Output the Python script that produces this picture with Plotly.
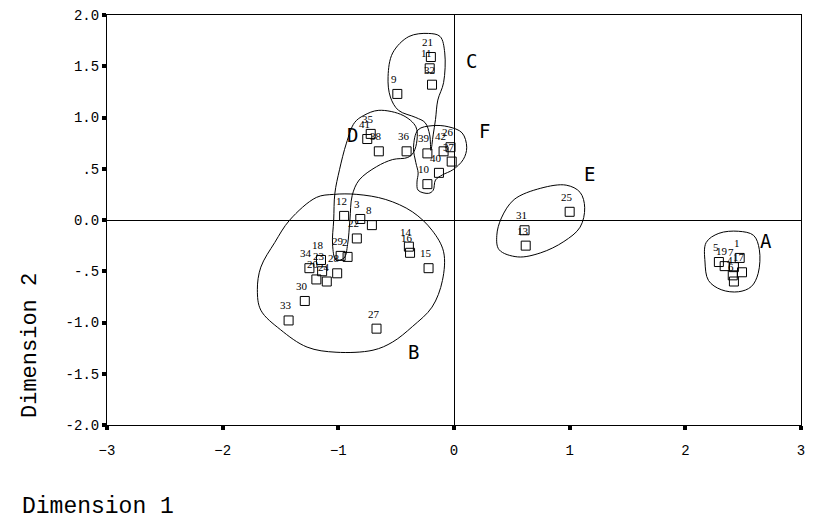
import plotly.graph_objects as go

# point coordinates (dimension 1, dimension 2) and their labels
labels = ["12", "3", "8", "22", "29", "2", "28", "18", "34", "23", "20", "24",
          "30", "33", "27", "14", "16", "15",
          "35", "41", "38", "36",
          "21", "11", "32", "9",
          "39", "42", "26", "37", "40", "10",
          "25", "31", "13",
          "1", "5", "19", "7", "17", "4", "6"]
dim1 = [-0.95, -0.81, -0.71, -0.84, -0.98, -0.92, -1.01, -1.15, -1.25, -1.14, -1.19, -1.10,
        -1.29, -1.43, -0.67, -0.39, -0.38, -0.22,
        -0.72, -0.75, -0.65, -0.41,
        -0.20, -0.21, -0.19, -0.49,
        -0.23, -0.09, -0.03, -0.02, -0.13, -0.23,
        1.00, 0.61, 0.62,
        2.47, 2.29, 2.34, 2.42, 2.49, 2.41, 2.42]
dim2 = [0.04, 0.01, -0.05, -0.18, -0.35, -0.36, -0.52, -0.39, -0.47, -0.50, -0.58, -0.60,
        -0.79, -0.98, -1.06, -0.26, -0.32, -0.47,
        0.84, 0.79, 0.67, 0.67,
        1.59, 1.48, 1.32, 1.23,
        0.65, 0.67, 0.71, 0.57, 0.46, 0.35,
        0.08, -0.10, -0.25,
        -0.37, -0.41, -0.45, -0.46, -0.51, -0.54, -0.60]

# hand-drawn group outlines
group_names = ["A", "B", "C", "D", "E", "F"]
outline_x = {
    "A": [2.18, 2.29, 2.46, 2.59, 2.64, 2.63, 2.57, 2.46, 2.31, 2.20, 2.17],
    "B": [-1.42, -1.19, -1.04, -0.84, -0.59, -0.36, -0.19, -0.09, -0.10, -0.19, -0.36,
          -0.53, -0.70, -1.02, -1.27, -1.50, -1.67, -1.70, -1.67, -1.55],
    "C": [-0.22, -0.12, -0.08, -0.09, -0.14, -0.16, -0.18, -0.20, -0.21, -0.25, -0.33,
          -0.48, -0.55, -0.57, -0.53, -0.39],
    "D": [-0.78, -0.65, -0.44, -0.33, -0.32, -0.35, -0.40, -0.53, -0.67, -0.82, -0.88,
          -0.90, -0.92, -0.95, -1.02, -1.05, -1.04, -1.03, -0.99, -0.93, -0.86],
    "E": [0.41, 0.52, 0.75, 0.97, 1.09, 1.13, 1.09, 0.95, 0.75, 0.55, 0.39, 0.37],
    "F": [-0.31, -0.19, -0.05, 0.07, 0.11, 0.08, -0.01, -0.10, -0.16, -0.18, -0.22,
          -0.31, -0.32, -0.31, -0.33, -0.35],
}
outline_y = {
    "A": [-0.22, -0.13, -0.11, -0.15, -0.29, -0.52, -0.65, -0.70, -0.68, -0.59, -0.41],
    "B": [0.00, 0.22, 0.25, 0.25, 0.20, 0.08, -0.10, -0.31, -0.59, -0.85, -1.04,
          -1.19, -1.27, -1.29, -1.24, -1.07, -0.88, -0.68, -0.46, -0.22],
    "C": [1.82, 1.79, 1.63, 1.34, 1.17, 0.98, 0.83, 0.68, 0.83, 0.95, 1.00,
          1.07, 1.20, 1.40, 1.63, 1.79],
    "D": [1.02, 1.07, 1.02, 0.91, 0.78, 0.66, 0.61, 0.59, 0.52, 0.39, 0.24,
          0.00, -0.24, -0.37, -0.39, -0.24, 0.00, 0.26, 0.49, 0.75, 0.95],
    "E": [0.02, 0.20, 0.31, 0.34, 0.27, 0.12, -0.07, -0.21, -0.32, -0.36, -0.29, -0.15],
    "F": [0.88, 0.92, 0.91, 0.85, 0.71, 0.59, 0.49, 0.44, 0.39, 0.29, 0.26,
          0.29, 0.37, 0.46, 0.56, 0.71],
}
group_label_x = [2.70, -0.35, 0.15, -0.88, 1.17, 0.26]
group_label_y = [-0.20, -1.29, 1.55, 0.83, 0.45, 0.87]

x_ticks = [-3, -2, -1, 0, 1, 2, 3]
y_ticks = [2.0, 1.5, 1.0, 0.5, 0.0, -0.5, -1.0, -1.5, -2.0]
y_ticktext = ["2.0", "1.5", "1.0", ".5", "0.0", "-.5", "-1.0", "-1.5", "-2.0"]

fig = go.Figure()

for g in group_names:
    xs = outline_x[g] + outline_x[g][:1]
    ys = outline_y[g] + outline_y[g][:1]
    fig.add_trace(go.Scatter(
        x=xs, y=ys, mode="lines",
        line=dict(color="black", width=1, shape="spline", smoothing=1.0),
        hoverinfo="skip", showlegend=False,
    ))

fig.add_trace(go.Scatter(
    x=dim1, y=dim2, mode="markers",
    marker=dict(symbol="square-open", size=9, color="black", line=dict(width=1)),
    text=labels, hoverinfo="text", showlegend=False,
))

# point labels
for xv, yv, t in zip(dim1, dim2, labels):
    fig.add_annotation(
        x=xv, y=yv, text=t, showarrow=False, xshift=-3, yshift=15,
        font=dict(family="Liberation Serif", size=11, color="black"),
    )

# group letters
for g, xv, yv in zip(group_names, group_label_x, group_label_y):
    fig.add_annotation(
        x=xv, y=yv, text=g, showarrow=False,
        font=dict(family="DejaVu Sans Mono", size=19, color="black"),
    )

# axis titles
fig.add_annotation(
    text="Dimension 1", xref="paper", yref="paper", x=-0.125, y=-0.2,
    xanchor="left", yanchor="middle", showarrow=False,
    font=dict(family="Liberation Mono", size=23, color="black"),
)
fig.add_annotation(
    text="Dimension 2", xref="paper", yref="paper", x=-0.111, y=0.195,
    xanchor="center", yanchor="middle", showarrow=False, textangle=-90,
    font=dict(family="Liberation Mono", size=22, color="black"),
)

axis_style = dict(
    showline=True, linecolor="black", linewidth=1, mirror=True, automargin=False,
    showgrid=False, zeroline=True, zerolinecolor="black", zerolinewidth=1,
    ticks="outside", ticklen=4, tickwidth=4, tickcolor="black",
    ticklabeloverflow="allow",
    tickfont=dict(family="Liberation Mono", size=14, color="black"),
)

fig.update_xaxes(range=[-3, 3], tickvals=x_ticks, ticklabelstandoff=8, **axis_style)
fig.update_yaxes(range=[-2, 2], tickvals=y_ticks, ticktext=y_ticktext, **axis_style)

# the page body adds an 8px margin, so the figure is kept inside the
# body's content box
fig.update_layout(
    width=798,
    height=513,
    margin=dict(l=99, r=5, t=7, b=96),
    plot_bgcolor="white",
    paper_bgcolor="white",
)

fig.write_html("out.html")
